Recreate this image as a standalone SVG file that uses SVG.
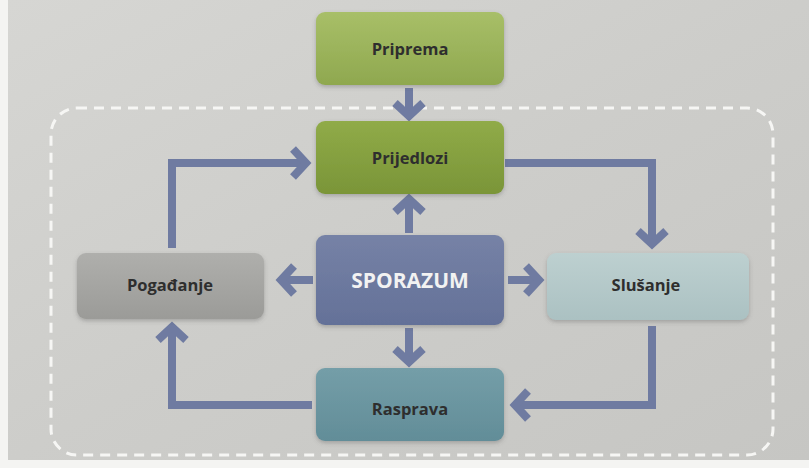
<svg xmlns="http://www.w3.org/2000/svg" width="809" height="468" viewBox="0 0 809 468">
<defs>
<linearGradient id="bg" x1="0" y1="0" x2="1" y2="1">
<stop offset="0" stop-color="#d6d6d3"/>
<stop offset="0.5" stop-color="#cdcdca"/>
<stop offset="1" stop-color="#c6c6c3"/>
</linearGradient>
<linearGradient id="gPri" x1="0" y1="0" x2="0" y2="1"><stop offset="0" stop-color="#a8bf68"/><stop offset="1" stop-color="#8fa84f"/></linearGradient>
<linearGradient id="gPrij" x1="0" y1="0" x2="0" y2="1"><stop offset="0" stop-color="#90ab48"/><stop offset="1" stop-color="#7a9538"/></linearGradient>
<linearGradient id="gSpo" x1="0" y1="0" x2="0" y2="1"><stop offset="0" stop-color="#7682a6"/><stop offset="1" stop-color="#647198"/></linearGradient>
<linearGradient id="gPog" x1="0" y1="0" x2="0" y2="1"><stop offset="0" stop-color="#afafac"/><stop offset="1" stop-color="#9b9b98"/></linearGradient>
<linearGradient id="gSlu" x1="0" y1="0" x2="0" y2="1"><stop offset="0" stop-color="#bdd0d0"/><stop offset="1" stop-color="#abc1c2"/></linearGradient>
<linearGradient id="gRas" x1="0" y1="0" x2="0" y2="1"><stop offset="0" stop-color="#749ea8"/><stop offset="1" stop-color="#628d98"/></linearGradient>
<filter id="sh" x="-10%" y="-10%" width="120%" height="130%">
<feDropShadow dx="0" dy="2" stdDeviation="2" flood-color="#555" flood-opacity="0.35"/>
</filter>
<marker id="chev" markerUnits="userSpaceOnUse" markerWidth="40" markerHeight="40" refX="0" refY="0" viewBox="-20 -20 40 40" orient="auto" overflow="visible">
<path d="M -13 -14 L 0 0 L -13 14" fill="none" stroke="#6f7ba1" stroke-width="8" stroke-linejoin="miter"/>
</marker>
<style>
.node rect { filter: url(#sh); }
.lbl { font-family: "Open Sans", "Liberation Sans", sans-serif; font-weight: bold; font-size: 16.5px; fill: #2e2e2e; text-anchor: middle; dominant-baseline: central; }
.big { font-family: "Open Sans", "Liberation Sans", sans-serif; font-weight: bold; font-size: 21px; fill: #f2f2f2; text-anchor: middle; dominant-baseline: central; }
.conn { fill: none; stroke: #6f7ba1; stroke-width: 8; stroke-linejoin: miter; marker-end: url(#chev); }
</style>
</defs>
<rect x="0" y="0" width="809" height="468" fill="#f4f4f2"/>
<rect x="8" y="0" width="801" height="460" fill="url(#bg)"/>
<rect id="boundary" x="51" y="108" width="722" height="347" rx="26" fill="none" stroke="#f6f6f4" stroke-width="3" stroke-dasharray="10 7"/>

<g id="connectors">
<path class="conn" d="M 409 88 L 409 116"/>
<path class="conn" d="M 409 233 L 409 199"/>
<path class="conn" d="M 313 280 L 281 280"/>
<path class="conn" d="M 508 280 L 539 280"/>
<path class="conn" d="M 409 328 L 409 362"/>
<path class="conn" d="M 505 163 L 652 163 L 652 244"/>
<path class="conn" d="M 652 326 L 652 405 L 515 405"/>
<path class="conn" d="M 312 405 L 172 405 L 172 327"/>
<path class="conn" d="M 172 248 L 172 163 L 306 163"/>
</g>

<g id="priprema" class="node">
<rect x="316" y="12" width="188" height="73" rx="9" fill="url(#gPri)"/>
<text class="lbl" x="410" y="48">Priprema</text>
</g>
<g id="prijedlozi" class="node">
<rect x="316" y="121" width="188" height="73" rx="9" fill="url(#gPrij)"/>
<text class="lbl" x="410" y="157">Prijedlozi</text>
</g>
<g id="sporazum" class="node">
<rect x="316" y="235" width="188" height="90" rx="9" fill="url(#gSpo)"/>
<text class="big" x="410" y="280">SPORAZUM</text>
</g>
<g id="pogadanje" class="node">
<rect x="77" y="253" width="187" height="66" rx="9" fill="url(#gPog)"/>
<text class="lbl" x="170" y="284">Pogađanje</text>
</g>
<g id="slusanje" class="node">
<rect x="547" y="253" width="202" height="67" rx="9" fill="url(#gSlu)"/>
<text class="lbl" x="646" y="284">Slušanje</text>
</g>
<g id="rasprava" class="node">
<rect x="316" y="368" width="188" height="73" rx="9" fill="url(#gRas)"/>
<text class="lbl" x="410" y="408">Rasprava</text>
</g>
</svg>
